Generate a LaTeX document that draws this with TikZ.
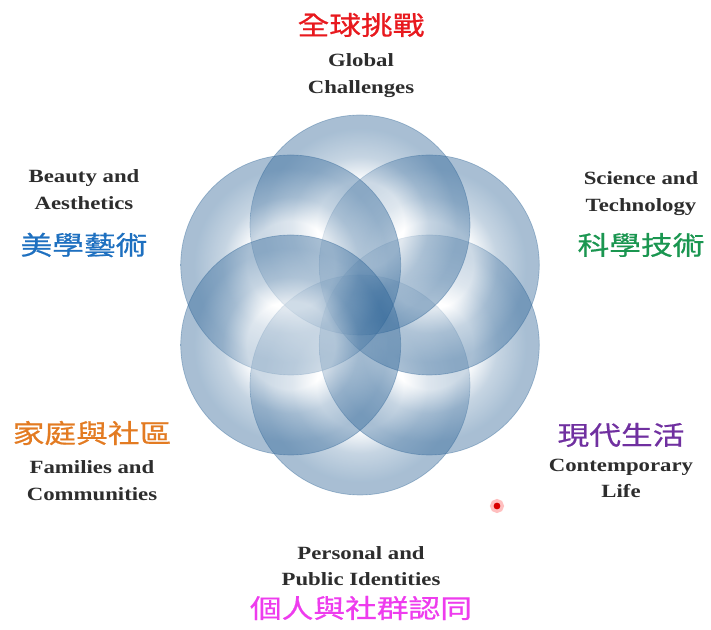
\documentclass[tikz,border=0pt]{standalone}
\usepackage{fontspec}
\setmainfont{Liberation Serif}[FakeStretch=1.22]
\newfontfamily\cjk{Noto Sans CJK TC}[FakeStretch=1.22,FakeBold=0.7]
\usetikzlibrary{positioning,calc}

\definecolor{bubbleblue}{RGB}{48,102,152}
\definecolor{entext}{RGB}{45,45,45}
\definecolor{zhred}{RGB}{232,25,30}
\definecolor{zhblue}{RGB}{30,112,192}
\definecolor{zhgreen}{RGB}{26,150,80}
\definecolor{zhorange}{RGB}{227,123,34}
\definecolor{zhpurple}{RGB}{112,48,160}
\definecolor{zhpink}{RGB}{238,60,238}

\pgfdeclareradialshading{bubble}{\pgfpoint{0bp}{0bp}}{color(0bp)=(white); color(10bp)=(white); color(15.5bp)=(bubbleblue!65!white); color(22bp)=(bubbleblue); color(50bp)=(bubbleblue)}

\begin{document}
\begin{tikzpicture}[
x=0.75pt, y=-0.75pt,
bubblenode/.style={circle, shading=bubble, fill opacity=0.42, draw=bubbleblue, draw opacity=0.4, line width=0.5pt, minimum size=165pt, inner sep=0pt},
en/.style={font=\fontsize{14}{20}\selectfont\bfseries, text=entext, align=center, inner sep=0pt},
zh/.style={font=\fontsize{19.5}{22}\selectfont\cjk, inner sep=0pt},
pointer/.style={circle, fill=red!85!black, draw=red!25, line width=2.5pt, minimum size=8pt, inner sep=0pt}
]
\useasboundingbox[fill=white] (0,0) rectangle (711,630);

\coordinate (mid) at (360,305);

% six bubbles
\foreach \a [count=\i] in {90,30,-30,-90,-150,150}
  \node[bubblenode] (bub\i) at ($(mid)+(\a:80)$) {};

% top
\node[zh, text=zhred] (globalzh) at (361,25) {全球挑戰};
\node[en] (globalen) [below=12pt of globalzh] {Global\\Challenges};

% upper left
\node[zh, text=zhblue] (beautyzh) at (84,245) {美學藝術};
\node[en] (beautyen) [above=17pt of beautyzh] {Beauty and\\Aesthetics};

% upper right
\node[zh, text=zhgreen] (sciencezh) at (641,245) {科學技術};
\node[en] (scienceen) [above=13pt of sciencezh] {Science and\\Technology};

% lower left
\node[zh, text=zhorange] (familyzh) at (92,433) {家庭與社區};
\node[en] (familyen) [below=11.5pt of familyzh] {Families and\\Communities};

% lower right
\node[zh, text=zhpurple] (lifezh) at (621,435) {現代生活};
\node[en] (lifeen) [below=8.5pt of lifezh] {Contemporary\\Life};

% bottom
\node[zh, text=zhpink] (identityzh) at (361,608) {個人與社群認同};
\node[en] (identityen) [above=7pt of identityzh] {Personal and\\Public Identities};

\node[pointer] (dot) at (497,506) {};
\end{tikzpicture}
\end{document}
